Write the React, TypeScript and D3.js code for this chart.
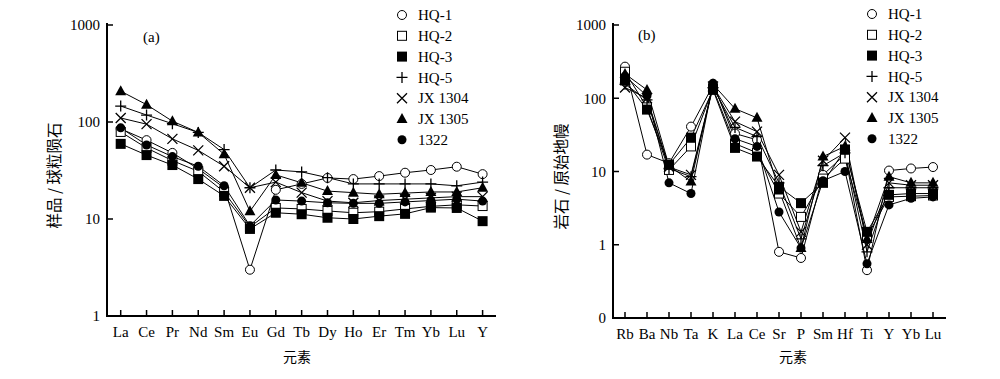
import React from "react";
import * as d3 from "d3";

const seriesNames = ["HQ-1", "HQ-2", "HQ-3", "HQ-5", "JX 1304", "JX 1305", "1322"];
const markers = ["circleOpen", "squareOpen", "squareFilled", "plus", "cross", "triangle", "circleFilled"];

const catsA = ["La", "Ce", "Pr", "Nd", "Sm", "Eu", "Gd", "Tb", "Dy", "Ho", "Er", "Tm", "Yb", "Lu", "Y"];
const reeHQ1 = [85, 65, 48, 33, 21, 3, 20, 23, 26.5, 25.8, 27.7, 30, 32, 34.6, 29];
const reeHQ2 = [79, 54, 40, 31, 19, 8.3, 13, 12.7, 12.1, 11.6, 11.9, 12.7, 13.5, 14, 13.6];
const reeHQ3 = [59.5, 45.6, 36, 25.8, 17.3, 7.9, 11.6, 11.2, 10.3, 10, 10.7, 11.3, 13.1, 13, 9.5];
const reeHQ5 = [146, 118, 96, 78, 52, 21, 32, 30.6, 26.7, 23, 23, 23, 23, 22, 24];
const reeJX1304 = [110, 95, 67, 51, 35, 21, 24, 18.7, 15.3, 14.7, 15.5, 16, 16.5, 17, 17];
const reeJX1305 = [208, 151, 102, 78, 46.5, 12, 28.5, 23.6, 19.4, 18.7, 18, 18.5, 19, 19, 21];
const ree1322 = [87, 58, 44, 35, 22, 8.5, 15.7, 15.3, 14.7, 14.5, 14.5, 15, 15.5, 16, 15.3];

const catsB = ["Rb", "Ba", "Nb", "Ta", "K", "La", "Ce", "Sr", "P", "Sm", "Hf", "Ti", "Y", "Yb", "Lu"];
const tHQ1 = [270, 17, 13, 41, 150, 33, 27, 0.8, 0.66, 9, 17, 0.45, 10.3, 11, 11.5];
const tHQ2 = [230, 75, 10.5, 22, 135, 24, 18, 5, 2.4, 8, 15, 1.3, 4.5, 4.6, 4.7];
const tHQ3 = [175, 70, 12.4, 29, 130, 21, 16, 6.2, 3.7, 7, 20, 1.5, 4.8, 5, 5];
const tHQ5 = [155, 95, 11, 8.5, 140, 40, 30, 7, 1.2, 12, 18, 0.8, 6, 6, 6];
const tJX1304 = [140, 100, 11.5, 9, 145, 48, 35, 9, 1.5, 14, 29, 1, 7, 6.5, 6.5];
const tJX1305 = [215, 130, 12, 7.3, 155, 72, 54, 5.5, 0.9, 16, 22, 1.2, 8.5, 7, 7];
const t1322 = [200, 108, 7, 5, 160, 28, 22, 2.8, 0.9, 7.5, 10, 0.55, 3.5, 4.3, 4.5];

const reeSeries = [reeHQ1, reeHQ2, reeHQ3, reeHQ5, reeJX1304, reeJX1305, ree1322];
const traceSeries = [tHQ1, tHQ2, tHQ3, tHQ5, tJX1304, tJX1305, t1322];

const yTicksA = [1, 10, 100, 1000];
const yTicksB = [0.1, 1, 10, 100, 1000];
const yTickLabelsB = ["0", "1", "10", "100", "1000"];

const SERIF = "'Liberation Serif', 'DejaVu Serif', serif";
const CJK = "'Noto Sans CJK SC', sans-serif";

function Marker({ type, x, y }: { type: string; x: number; y: number }) {
  const r = 4.5;
  switch (type) {
    case "circleOpen":
      return <circle cx={x} cy={y} r={r} fill="white" stroke="black" strokeWidth={1} />;
    case "circleFilled":
      return <circle cx={x} cy={y} r={r} fill="black" />;
    case "squareOpen":
      return <rect x={x - 4.5} y={y - 4.5} width={9} height={9} fill="white" stroke="black" strokeWidth={1} />;
    case "squareFilled":
      return <rect x={x - 5} y={y - 5} width={10} height={10} fill="black" />;
    case "plus":
      return (
        <path d={`M${x - 5.5},${y}H${x + 5.5}M${x},${y - 5.5}V${y + 5.5}`} stroke="black" strokeWidth={1.3} fill="none" />
      );
    case "cross":
      return (
        <path
          d={`M${x - 5},${y - 5}L${x + 5},${y + 5}M${x - 5},${y + 5}L${x + 5},${y - 5}`}
          stroke="black"
          strokeWidth={1.3}
          fill="none"
        />
      );
    case "triangle":
      return <path d={`M${x},${y - 6}L${x + 5.5},${y + 4}L${x - 5.5},${y + 4}Z`} fill="black" />;
  }
  return null;
}

function Panel(props: {
  cats: string[];
  series: number[][];
  x0: number;
  x1: number;
  axisLeft: number;
  axisRight: number;
  yTop: number;
  yBottom: number;
  yDomain: [number, number];
  yTicks: number[];
  yLabels: string[];
  label: string;
  labelX: number;
  labelY: number;
  yTitle: string;
  yTitleX: number;
  xTitleX: number;
  legendX: number;
  legendY: number;
}) {
  const x = d3.scalePoint<string>().domain(props.cats).range([props.x0, props.x1]);
  const y = d3.scaleLog().domain(props.yDomain).range([props.yBottom, props.yTop]);
  const line = d3
    .line<number>()
    .x((_, i) => x(props.cats[i]) as number)
    .y((d) => y(d));
  const axisY = props.yBottom;
  return (
    <g>
      {props.series.map((s, i) => (
        <path key={"l" + i} d={line(s) || ""} fill="none" stroke="black" strokeWidth={1} />
      ))}
      {props.series.map((s, i) => (
        <g key={"m" + i}>
          {s.map((v, j) => (
            <Marker key={j} type={markers[i]} x={x(props.cats[j]) as number} y={y(v)} />
          ))}
        </g>
      ))}
      <path
        d={`M${props.axisLeft},${props.yTop - 2}V${axisY}H${props.axisRight}`}
        fill="none"
        stroke="black"
        strokeWidth={2}
      />
      {props.yTicks.map((t, i) => (
        <g key={"yt" + i}>
          <line x1={props.axisLeft} x2={props.axisLeft + 6} y1={y(t)} y2={y(t)} stroke="black" strokeWidth={1.5} />
          <text
            x={props.axisLeft - 7}
            y={y(t)}
            dy="0.35em"
            textAnchor="end"
            fontFamily={SERIF}
            fontSize={15}
          >
            {props.yLabels[i]}
          </text>
        </g>
      ))}
      {props.cats.map((c) => (
        <g key={"xt" + c}>
          <line
            x1={x(c) as number}
            x2={x(c) as number}
            y1={axisY}
            y2={axisY - 6}
            stroke="black"
            strokeWidth={1.5}
          />
          <text x={x(c) as number} y={axisY + 21} textAnchor="middle" fontFamily={SERIF} fontSize={15}>
            {c}
          </text>
        </g>
      ))}
      <text x={props.labelX} y={props.labelY} fontFamily={SERIF} fontSize={15}>
        {props.label}
      </text>
      <text
        transform={`translate(${props.yTitleX},${(props.yTop + props.yBottom) / 2 + 5}) rotate(-90)`}
        textAnchor="middle"
        fontFamily={CJK}
        fontSize={15.5}
        dy="0.35em"
      >
        {props.yTitle}
      </text>
      <text x={props.xTitleX} y={362} textAnchor="middle" fontFamily={CJK} fontSize={14}>
        元素
      </text>
      {seriesNames.map((n, i) => (
        <g key={"lg" + i}>
          <Marker type={markers[i]} x={props.legendX} y={props.legendY + i * 20.8} />
          <text
            x={props.legendX + 16}
            y={props.legendY + i * 20.8}
            dy="0.35em"
            fontFamily={SERIF}
            fontSize={15}
          >
            {n}
          </text>
        </g>
      ))}
    </g>
  );
}

export default function App() {
  return (
    <svg width={1000} height={379} style={{ position: "absolute", left: 0, top: 0, background: "white" }}>
      <rect width={1000} height={379} fill="white" />
      <Panel
        cats={catsA}
        series={reeSeries}
        x0={120.7}
        x1={482.6}
        axisLeft={107}
        axisRight={496}
        yTop={25}
        yBottom={316}
        yDomain={[1, 1000]}
        yTicks={yTicksA}
        yLabels={yTicksA.map(String)}
        label="(a)"
        labelX={143}
        labelY={42}
        yTitle="样品 / 球粒陨石"
        yTitleX={55}
        xTitleX={297}
        legendX={402}
        legendY={15}
      />
      <Panel
        cats={catsB}
        series={traceSeries}
        x0={625}
        x1={933}
        axisLeft={613}
        axisRight={946}
        yTop={25}
        yBottom={318}
        yDomain={[0.1, 1000]}
        yTicks={yTicksB}
        yLabels={yTickLabelsB}
        label="(b)"
        labelX={638}
        labelY={40}
        yTitle="岩石 / 原始地幔"
        yTitleX={562}
        xTitleX={793}
        legendX={872}
        legendY={14}
      />
    </svg>
  );
}
